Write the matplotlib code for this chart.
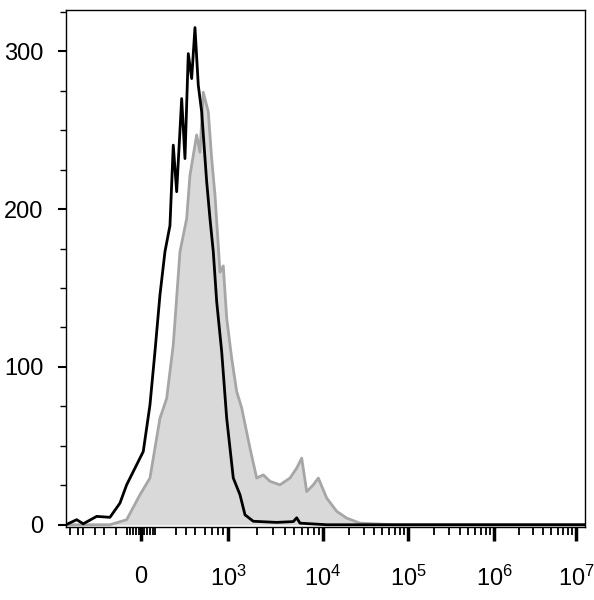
import numpy as np
import matplotlib
matplotlib.use("Agg")
import matplotlib.pyplot as plt

plt.rcParams['font.family'] = ['Liberation Sans', 'DejaVu Sans']
plt.rcParams['mathtext.fontset'] = 'custom'
plt.rcParams['mathtext.rm'] = 'Liberation Sans'

# channel positions (display scale) and counts
black_x = [0, 10.7, 17.3, 30.7, 44, 54, 60.7, 70.7, 77.3, 84, 89, 94, 99, 104, 107.3, 110.7,
           115.7, 119, 122.3, 125.7, 129, 132.3, 135.7, 140.7, 144, 147.3, 150.7, 155.7,
           160.7, 167.3, 174, 179, 187.3, 210.7, 227.3, 230.7, 234, 260.7, 519]
black_y = [0, 3.2, 0.6, 5.3, 4.7, 13.7, 25.3, 38, 46.4, 75.9, 109.7, 145.6, 173, 189.6, 240.5, 211,
           270, 232, 298.5, 282.7, 315, 278.5, 261.6, 217.3, 194, 173, 141.4, 109.7,
           67.5, 29.6, 19, 6.3, 2.2, 1.5, 2, 4.4, 1, 0, 0]

grey_x = [0, 44, 60.7, 74, 84, 94, 100.7, 107.3, 114, 120.7, 124, 130.7, 134, 137.3, 142.3,
          145.7, 149, 154, 157.3, 160.7, 165.7, 170.7, 175.7, 184, 190.7, 197.3, 204, 214,
          224, 230.7, 235.7, 240.7, 247.3, 252.3, 260.7, 270.7, 280.7, 294, 327, 519]
grey_y = [0, 0, 3.2, 19, 29.6, 67.5, 80, 114, 173, 194, 221.5, 247, 236, 274, 261.6,
          232, 209, 160, 164, 131, 105.5, 84.4, 74, 48.5, 29.6, 31.6, 27.5, 25.3,
          29.6, 35.9, 42.2, 21, 25.3, 29.6, 16.9, 8.5, 4.2, 1, 0, 0]

major_pos = [75, 162, 257, 342, 428, 510]
major_labels = ['0', r'$\mathregular{10^3}$', r'$\mathregular{10^4}$', r'$\mathregular{10^5}$',
                r'$\mathregular{10^6}$', r'$\mathregular{10^7}$']
low_minor = [4, 12, 17, 29, 38, 50, 61, 64, 67, 70, 73, 78, 81, 84, 87, 89,
             110, 120, 129, 139, 146, 152, 157]

fig = plt.figure(figsize=(5.94, 6.0), dpi=100)
ax = fig.add_axes([0.111, 0.122, 0.874, 0.861])

ax.fill_between(grey_x, grey_y, color='#d9d9d9', lw=0)
ax.plot(grey_x, grey_y, color='#a6a6a6', lw=2)
ax.plot(black_x, black_y, color='black', lw=2)

ax.set_xlim(0, 519)
ax.set_ylim(-1.3, 326)

minor = list(low_minor)
for a, b in zip(major_pos[1:-1], major_pos[2:]):
    for k in range(2, 10):
        minor.append(a + (b - a) * np.log10(k))
ax.set_xticks(major_pos)
ax.set_xticklabels(major_labels)
ax.set_xticks(minor, minor=True)
ax.tick_params(axis='x', which='major', length=10, width=2.5, pad=18, labelsize=17)
ax.tick_params(axis='x', which='minor', length=6, width=1.3)

ax.set_yticks([0, 100, 200, 300])
ax.set_yticks(np.arange(0, 326, 25), minor=True)
ax.tick_params(axis='y', which='major', length=6, width=1.5, pad=10, labelsize=17)
ax.tick_params(axis='y', which='minor', length=4, width=1)

for s in ax.spines.values():
    s.set_linewidth(1)

fig.savefig('out.png', dpi=100)
